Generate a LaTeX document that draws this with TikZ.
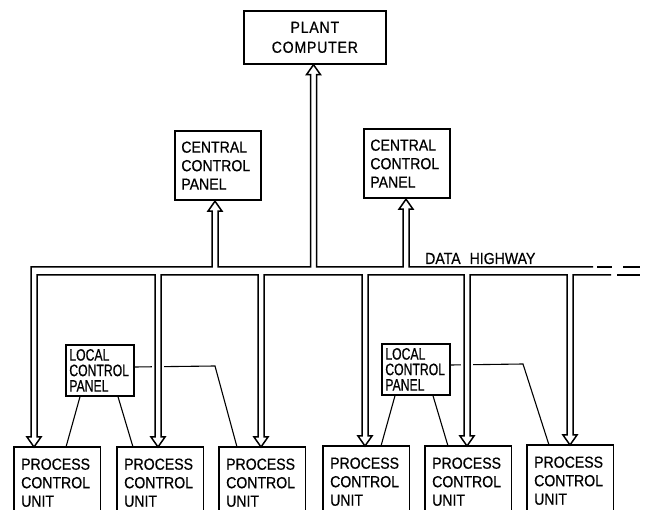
\documentclass[tikz,border=0pt]{standalone}
\usepackage{fontspec}
\setmainfont{Liberation Sans}[FakeStretch=0.88,FakeBold=0.6]
\newfontfamily\lcpfamily{Liberation Sans}[FakeStretch=0.74,FakeBold=0.6]
\newfontfamily\pcfamily{Liberation Sans}[FakeStretch=0.88,FakeBold=0.6,LetterSpace=5]
\usetikzlibrary{calc}
\newcommand\boxfnt{\fontsize{16}{18.5}\selectfont}
\newcommand\pcfnt{\pcfamily\fontsize{16}{20}\selectfont}
\newcommand\lcpfnt{\lcpfamily\fontsize{16.5}{15.5}\selectfont}
% up arrow on the top line (path runs right to left)
\newcommand\hwup[2]{-- (#1+3,267) -- ($(#1,0 |- #2.south)+(3,10)$) -- ++(4,0) -- (#1,0 |- #2.south) -- ++(-7,10) -- ++(4,0) -- (#1-3,267)}
% down arrow on the bottom line (path runs left to right)
\newcommand\hwdown[2]{-- (#1-3,275) -- ($(#1,0 |- #2.north)+(-3,-10)$) -- ++(-4,0) -- (#1,0 |- #2.north) -- ++(7,-10) -- ++(-4,0) -- (#1+3,275)}
\begin{document}
\begin{tikzpicture}[x=1pt,y=-1pt,
  boxline/.style={line width=1.7pt},
  hw/.style={line width=1.5pt, line join=miter},
  conn/.style={line width=1.1pt},
  knockout/.style={draw=white, line width=12pt},
  pcu/.style={anchor=north west, text width=72pt, inner xsep=7pt, inner ysep=0pt,
    minimum height=71pt, align=left, font=\boxfnt},
  ccp/.style={draw, boxline, anchor=north west, text width=73pt, inner xsep=6.5pt,
    inner ysep=0pt, minimum height=69.5pt, align=left, font=\boxfnt},
  pcbox/.style={draw, boxline, anchor=north west, text width=128pt, inner xsep=7pt,
    inner ysep=0pt, minimum height=53pt, align=center, font=\pcfnt},
  lcp/.style={draw, boxline, anchor=north west, text width=61pt, inner xsep=3.5pt,
    inner ysep=0pt, minimum height=51pt, align=left, font=\lcpfnt}]
\useasboundingbox (0,0) rectangle (651,510);

% boxes
\node[pcbox] (pc) at (243,10) {PLANT\hspace*{10pt}\\COMPUTER\hspace*{10pt}};
\node[ccp] (ccpa) at (174,130) {CENTRAL\\CONTROL\\PANEL};
\node[ccp] (ccpb) at (363,128) {CENTRAL\\CONTROL\\PANEL};
\node[lcp] (lcpa) at (65,344) {LOCAL\\CONTROL\\PANEL};
\node[lcp] (lcpb) at (381,343) {LOCAL\\CONTROL\\PANEL};
\node[pcu] (pcua) at (14,447) {PROCESS\\CONTROL\\UNIT};
\node[pcu] (pcub) at (117,447) {PROCESS\\CONTROL\\UNIT};
\node[pcu] (pcuc) at (219,447) {PROCESS\\CONTROL\\UNIT};
\node[pcu] (pcud) at (323,446) {PROCESS\\CONTROL\\UNIT};
\node[pcu] (pcue) at (425,446) {PROCESS\\CONTROL\\UNIT};
\node[pcu] (pcuf) at (527,445) {PROCESS\\CONTROL\\UNIT};
\foreach \n in {pcua,pcub,pcuc,pcud,pcue,pcuf}
  \draw[boxline] (\n.north west |- 0,510) -- (\n.north west) -- (\n.north east) -- (\n.north east |- 0,510);

% local control panel wiring
\draw[conn] (80,0 |- lcpa.south) -- (66,0 |- pcua.north);
\draw[conn] (118,0 |- lcpa.south) -- (133,0 |- pcub.north);
\draw[conn] (lcpa.east |- 0,367) -- (215,366) -- (237,0 |- pcuc.north);
\draw[conn] (395,0 |- lcpb.south) -- (381,0 |- pcud.north);
\draw[conn] (433,0 |- lcpb.south) -- (448,0 |- pcue.north);
\draw[conn] (lcpb.east |- 0,365) -- (523,364) -- (549,0 |- pcuf.north);
\draw[knockout] (158,352) -- (158,382);
\draw[knockout] (467,350) -- (467,380);

% data highway
\draw[hw] (593,267) \hwup{406}{ccpb} \hwup{313.5}{pc} \hwup{215}{ccpa}
  -- (31,267) -- ($(34,0 |- pcua.north)+(-3,-10)$) -- ++(-4,0) -- (34,0 |- pcua.north)
  -- ++(7,-10) -- ++(-4,0) -- (37,275)
  \hwdown{158}{pcub} \hwdown{261}{pcuc} \hwdown{365}{pcud}
  \hwdown{467}{pcue} \hwdown{570}{pcuf} -- (611,275);
\draw[hw] (597,267) -- (612,267);
\draw[hw] (623,267) -- (640,267);
\draw[hw] (617,275) -- (640,275);
\node[anchor=base west, inner sep=0pt, font=\boxfnt] (dh) at (425,264) {DATA\hspace{9pt}HIGHWAY};
\end{tikzpicture}
\end{document}
